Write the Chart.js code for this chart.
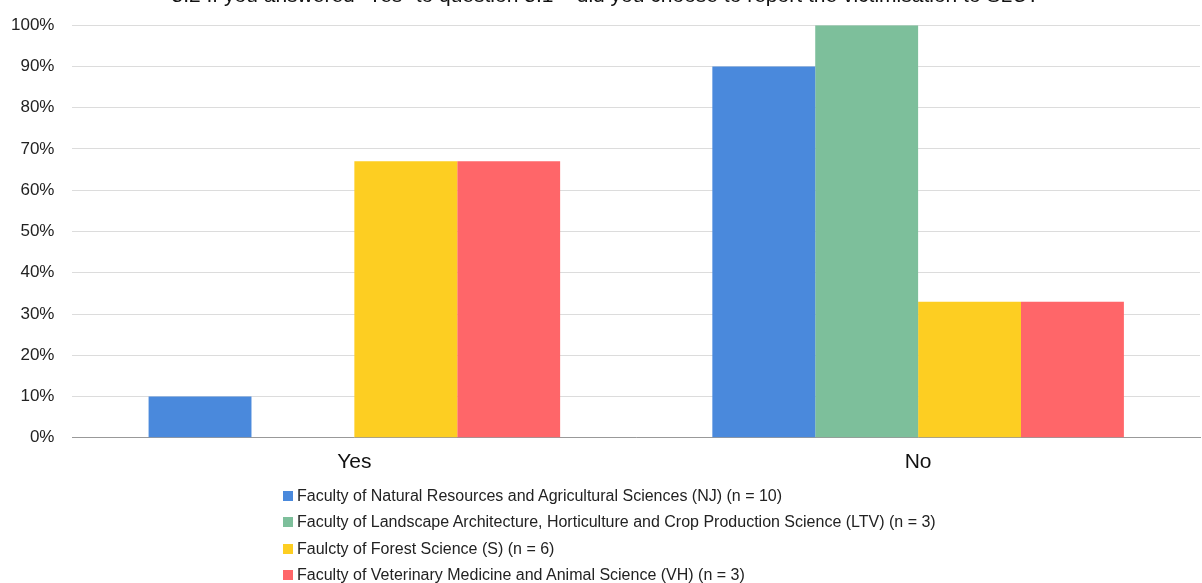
<!DOCTYPE html>
<html>
<head>
<meta charset="utf-8">
<script src="https://cdn.jsdelivr.net/npm/chart.js@4.4.0/dist/chart.umd.min.js"></script>
<style>
  html, body { margin: 0; padding: 0; background: #fff; }
  #wrap { position: relative; width: 1202px; height: 583px; overflow: hidden; }
  #chart { position: absolute; left: 0; top: -16px; }
  #legend {
    position: absolute; left: 283px; top: 484px;
    font-family: "Liberation Sans", Arial, sans-serif; font-size: 16px; color: #222;
  }
  #legend div { height: 26.3px; line-height: 24px; white-space: nowrap; }
  #legend span.box { display: inline-block; width: 10px; height: 10px; margin-right: 4px; vertical-align: 0px; }
</style>
</head>
<body>
<div id="wrap">
  <canvas id="chart" width="1202" height="599"></canvas>
  <div id="legend"></div>
</div>
<script>
// Chart data
const titleText = '   5.2 If you answered "Yes" to question 5.1 \u2013 did you choose to report the victimisation to SLU?';
const categories = ['Yes', 'No'];
const seriesNames = [
  'Faculty of Natural Resources and Agricultural Sciences (NJ) (n = 10)',
  'Faculty of Landscape Architecture, Horticulture and Crop Production Science (LTV) (n = 3)',
  'Faulcty of Forest Science (S) (n = 6)',
  'Faculty of Veterinary Medicine and Animal Science (VH) (n = 3)'
];
const njValues = [10, 90];
const ltvValues = [0, 100];
const sValues = [67, 33];
const vhValues = [67, 33];
const colors = ['#4a89dc', '#7dbf9b', '#fdce22', '#ff6669'];

const allValues = [njValues, ltvValues, sValues, vhValues];

document.addEventListener('DOMContentLoaded', function () {
  const ctx = document.getElementById('chart').getContext('2d');

  new Chart(ctx, {
    type: 'bar',
    data: {
      labels: categories,
      datasets: allValues.map((vals, i) => ({
        label: seriesNames[i],
        data: vals,
        backgroundColor: colors[i],
        borderWidth: 0,
        barPercentage: 1,
        categoryPercentage: 0.73
      }))
    },
    options: {
      responsive: false,
      animation: false,
      layout: { padding: { left: -7, right: 2, top: 0, bottom: 96 } },
      plugins: {
        legend: { display: false },
        tooltip: { enabled: false },
        title: {
          display: true,
          text: titleText,
          color: '#111',
          font: { family: 'Liberation Sans, Arial, sans-serif', size: 21, weight: 'normal' },
          padding: { top: 0, bottom: 16 }
        }
      },
      scales: {
        x: {
          grid: { display: false, drawTicks: false },
          border: { display: true, color: '#999', width: 1 },
          ticks: {
            color: '#111',
            padding: 12,
            font: { family: 'Liberation Sans, Arial, sans-serif', size: 21 }
          }
        },
        y: {
          min: 0,
          max: 100,
          grid: { color: '#dcdcdc', drawTicks: false },
          border: { display: false },
          ticks: {
            stepSize: 10,
            color: '#222',
            padding: 18,
            font: { family: 'Liberation Sans, Arial, sans-serif', size: 17 },
            callback: v => v + '%'
          }
        }
      }
    }
  });

  // HTML legend, stacked vertically like the original
  const legend = document.getElementById('legend');
  seriesNames.forEach((name, i) => {
    const row = document.createElement('div');
    const box = document.createElement('span');
    box.className = 'box';
    box.style.background = colors[i];
    row.appendChild(box);
    row.appendChild(document.createTextNode(name));
    legend.appendChild(row);
  });
});
</script>
</body>
</html>
